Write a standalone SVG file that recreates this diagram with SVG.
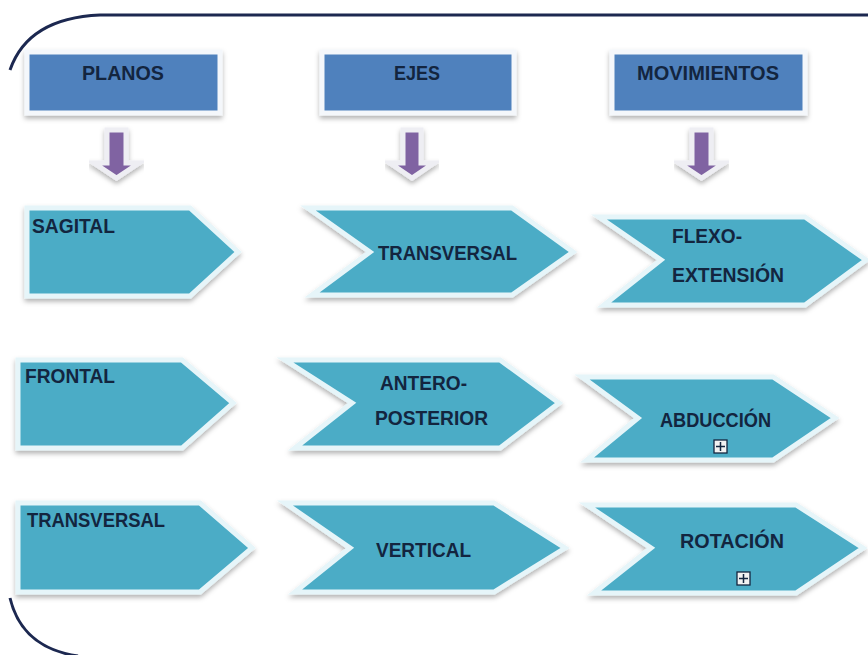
<svg xmlns="http://www.w3.org/2000/svg" width="868" height="655" viewBox="0 0 868 655">
<defs>
<filter id="sh" x="-10%" y="-15%" width="120%" height="140%">
<feDropShadow dx="0" dy="3" stdDeviation="2.5" flood-color="#000" flood-opacity="0.3"/>
</filter>
<style>
.frame{fill:none;stroke:#1c2850;stroke-width:3}
.hdr{fill:#4f81bd;stroke:#f4f7fb;stroke-width:5;filter:url(#sh)}
.chev{fill:#4bacc6;stroke:#e6f5f9;stroke-width:5;stroke-linejoin:miter;filter:url(#sh)}
.arr{fill:#8064a2;stroke:#eeeef3;stroke-width:5;stroke-linejoin:miter;filter:url(#sh)}
.t{font-family:"Liberation Sans",Arial,sans-serif;font-weight:bold;font-size:21px;fill:#13253f}
.plus{fill:#f2f2f2;stroke:#13253f;stroke-width:1.3}
.plusl{stroke:#13253f;stroke-width:1.5}
</style>
</defs>
<rect width="868" height="655" fill="#ffffff"/>
<g id="frame">
<path class="frame" d="M10,70 Q28,18 100,15 L868,15"/>
<path class="frame" d="M10,598 Q22,648 78,656"/>
</g>
<g id="h-planos"><rect class="hdr" x="27" y="52" width="193" height="61"/><text class="t" x="82" y="80" textLength="82" lengthAdjust="spacingAndGlyphs">PLANOS</text></g>
<g id="h-ejes"><rect class="hdr" x="322" y="52" width="192" height="61"/><text class="t" x="394" y="80" textLength="46" lengthAdjust="spacingAndGlyphs">EJES</text></g>
<g id="h-mov"><rect class="hdr" x="612" y="52" width="193" height="61"/><text class="t" x="637" y="80" textLength="142" lengthAdjust="spacingAndGlyphs">MOVIMIENTOS</text></g>
<g id="connectors">
<path class="arr" d="M107,130 H126 V163 H139 L116.5,178 L94,163 H107 Z"/>
<path class="arr" d="M403,130 H421 V163 H434 L412,178 L390,163 H403 Z"/>
<path class="arr" d="M692,130 H711 V163 H724 L701.5,178 L679,163 H692 Z"/>
</g>
<g id="n-sagital"><polygon class="chev" points="27,208 190,208 238,252 190,296 27,296"/><text class="t" x="32" y="233" textLength="83" lengthAdjust="spacingAndGlyphs">SAGITAL</text></g>
<g id="n-transversal-eje"><polygon class="chev" points="308,208 512,208 573,252 512,295 312,295 370,252"/><text class="t" x="378" y="260" textLength="139" lengthAdjust="spacingAndGlyphs">TRANSVERSAL</text></g>
<g id="n-flexo"><polygon class="chev" points="599,217 805,217 866,260 805,305 604,305 661,260"/><text class="t" x="672" y="243" textLength="70" lengthAdjust="spacingAndGlyphs">FLEXO-</text><text class="t" x="672" y="282" textLength="112" lengthAdjust="spacingAndGlyphs">EXTENSIÓN</text></g>
<g id="n-frontal"><polygon class="chev" points="18,360 182,360 233,403 182,448 18,448"/><text class="t" x="25" y="383" textLength="90" lengthAdjust="spacingAndGlyphs">FRONTAL</text></g>
<g id="n-antero"><polygon class="chev" points="285,360 500,360 559,403 500,448 295,448 352,403"/><text class="t" x="380" y="390" textLength="87" lengthAdjust="spacingAndGlyphs">ANTERO-</text><text class="t" x="375" y="425" textLength="113" lengthAdjust="spacingAndGlyphs">POSTERIOR</text></g>
<g id="n-abduccion"><polygon class="chev" points="582,377 773,377 835,418 773,460 587,460 638,418"/><text class="t" x="660" y="427" textLength="111" lengthAdjust="spacingAndGlyphs">ABDUCCIÓN</text>
<rect class="plus" x="714" y="440" width="13" height="13"/><line class="plusl" x1="716" y1="446.5" x2="725" y2="446.5"/><line class="plusl" x1="720.5" y1="442" x2="720.5" y2="451"/></g>
<g id="n-transversal-plano"><polygon class="chev" points="18,503 200,503 252,548 200,592 18,592"/><text class="t" x="27" y="527" textLength="138" lengthAdjust="spacingAndGlyphs">TRANSVERSAL</text></g>
<g id="n-vertical"><polygon class="chev" points="285,503 494,503 565,548 494,592 295,592 350,548"/><text class="t" x="376" y="557" textLength="95" lengthAdjust="spacingAndGlyphs">VERTICAL</text></g>
<g id="n-rotacion"><polygon class="chev" points="587,505 796,505 863,548 796,593 594,593 651,548"/><text class="t" x="680" y="548" textLength="104" lengthAdjust="spacingAndGlyphs">ROTACIÓN</text>
<rect class="plus" x="737" y="572" width="13" height="13"/><line class="plusl" x1="739" y1="578.5" x2="748" y2="578.5"/><line class="plusl" x1="743.5" y1="574" x2="743.5" y2="583"/></g>
</svg>
